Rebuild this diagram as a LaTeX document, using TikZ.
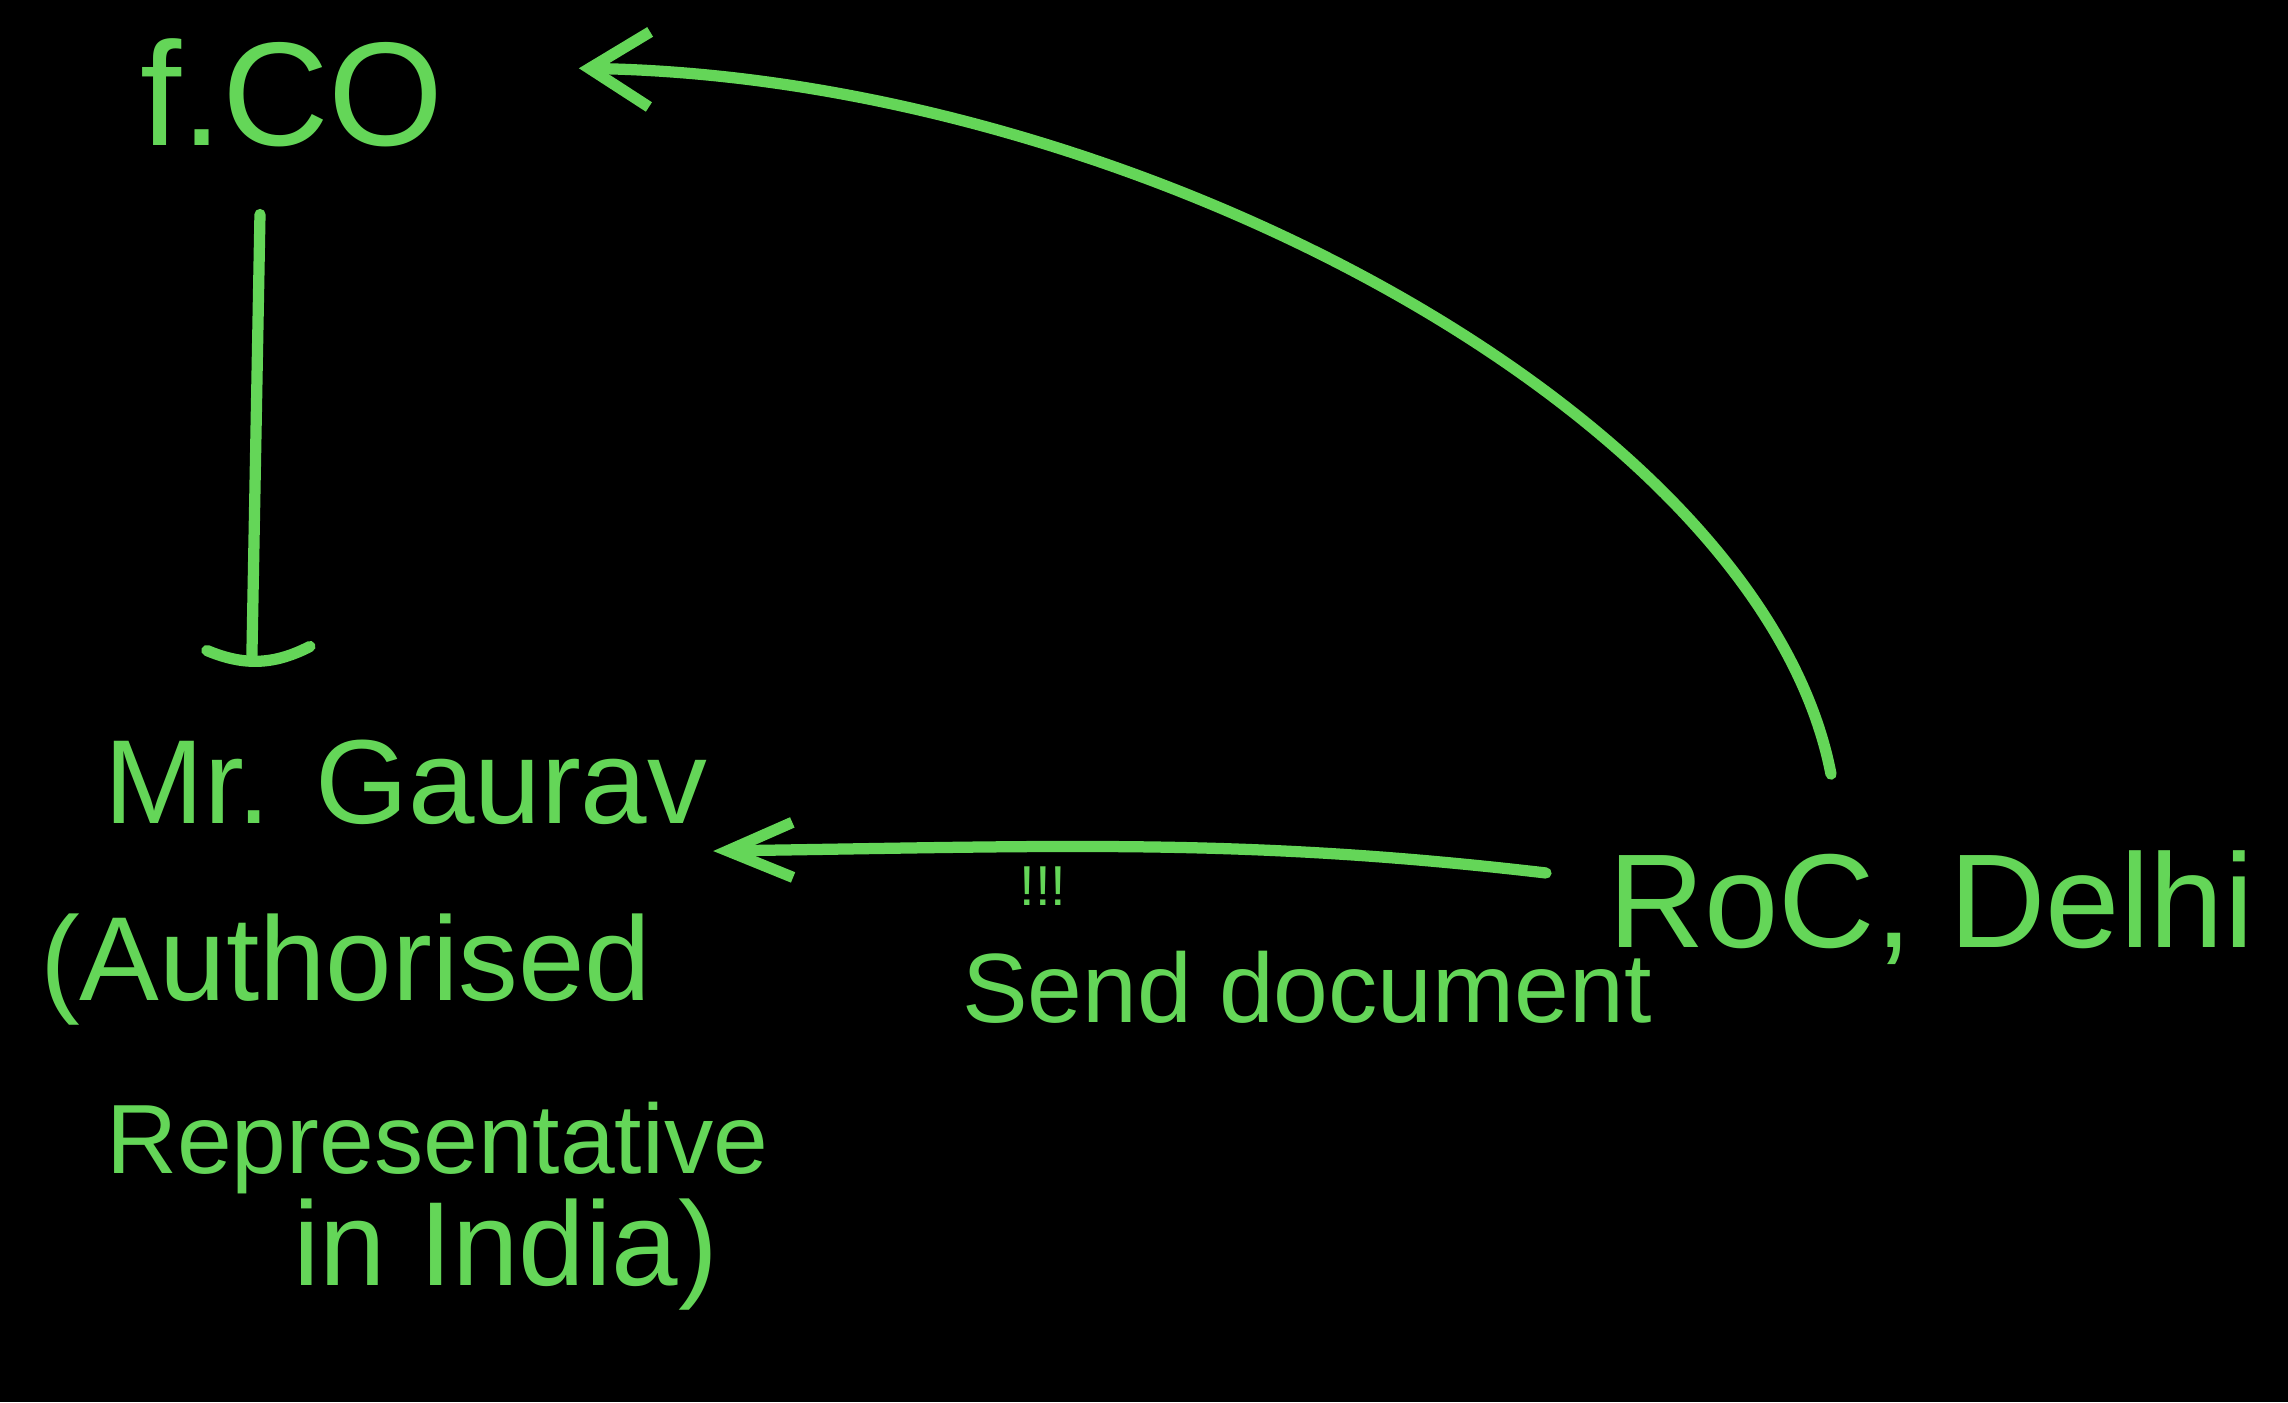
\documentclass[tikz,border=0pt]{standalone}
\usepackage{fontspec}
\setmainfont{Liberation Sans}
\usetikzlibrary{arrows.meta}
\definecolor{chalk}{RGB}{100,214,88}
\tikzset{
  lbl/.style={text=chalk, inner sep=0pt, outer sep=0pt},
  conn/.style={draw=chalk, line width=3.2pt, line cap=round, line join=round},
  head/.style={-{Straight Barb[length=6mm, width=7.5mm, line width=3.2pt]}},
  flathead/.style={-{Straight Barb[length=6.5mm, width=5.5mm, line width=3.2pt]}}
}
\begin{document}
\begin{tikzpicture}[x=0.01cm, y=-0.01cm]
\fill[black] (0,0) rectangle (2288,1402);
\useasboundingbox (0,0) rectangle (2288,1402);

% nodes
\node[lbl, anchor=base, font=\fontsize{42}{48}\selectfont] (fco) at (292,145) {f.CO};
\node[lbl, anchor=base, font=\fontsize{34}{40}\selectfont] (mg) at (406,823) {Mr. Gaurav};
\node[lbl, anchor=base west, font=\fontsize{34}{40}\selectfont] (ar1) at (40,1000) {(Authorised};
\node[lbl, anchor=base west, font=\fontsize{28}{34}\selectfont] (ar2) at (106,1173) {Representative};
\node[lbl, anchor=base west, font=\fontsize{34}{40}\selectfont] (ar3) at (293,1285) {in India)};
\node[lbl, anchor=base west, font=\fontsize{28}{34}\selectfont] (sd) at (962,1022) {Send document};
\node[lbl, font=\fontsize{16}{18}\selectfont] (ex) at (1043,886) {!!!};
\node[lbl, anchor=base west, font=\fontsize{38}{44}\selectfont] (roc) at (1608,947) {RoC, Delhi};

% F.C.O down to Mr. Gaurav, ending in a bar
\coordinate (tend) at ([xshift=-15.4mm, yshift=8.4mm]mg.north);
\draw[conn] ([xshift=-3.2mm, yshift=-6.8mm]fco.south) -- (tend);
\draw[conn] ([xshift=-4.5mm, yshift=0.5mm]tend) to[bend right=25] ([xshift=5.8mm, yshift=0.9mm]tend);

% RoC up to F.C.O
\draw[conn, head] ([xshift=-10mm, yshift=7.6mm]roc.north)
  .. controls +(-70,-361) and +(550,9) .. ([xshift=13.5mm, yshift=2.4mm]fco.east);

% RoC to Mr. Gaurav
\draw[conn, flathead] ([xshift=-6.2mm, yshift=7.4mm]roc.base west)
  .. controls +(-300,-35) and +(350,-5) .. ([xshift=0.6mm, yshift=-2.8mm]mg.base east);
\end{tikzpicture}
\end{document}
